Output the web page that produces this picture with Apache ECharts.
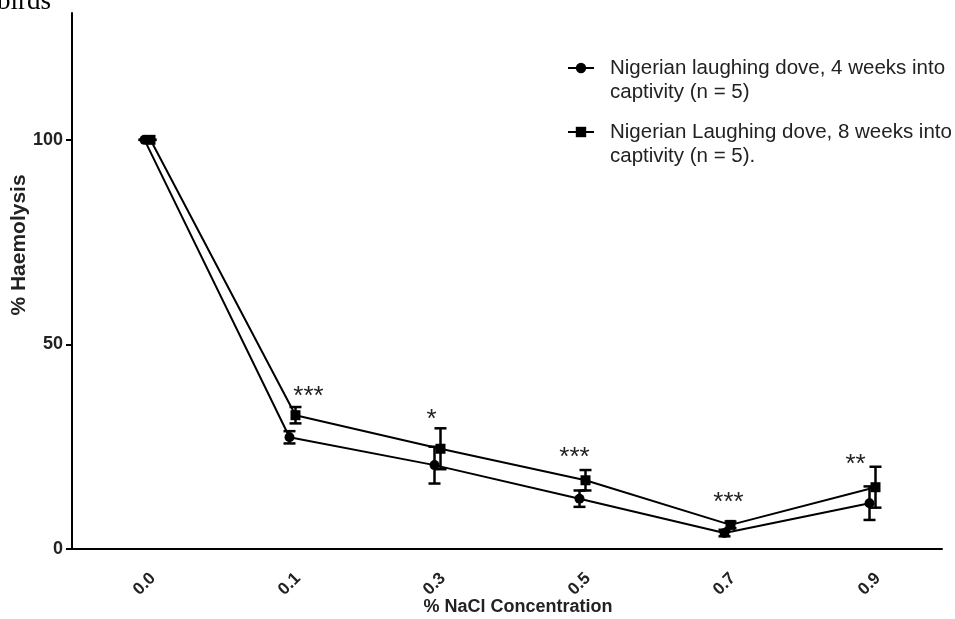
<!DOCTYPE html>
<html><head><meta charset="utf-8">
<script src="https://cdn.jsdelivr.net/npm/echarts@6/dist/echarts.min.js"></script>
<style>html,body{margin:0;padding:0;background:#fff}#c{width:955px;height:619px}</style>
</head><body><div id="c"></div>
<script>
// ---- data ----
const categories = ['0.0', '0.1', '0.3', '0.5', '0.7', '0.9'];
const yTickValues = [0, 50, 100];
const week4Name = 'Nigerian laughing dove, 4 weeks into\ncaptivity (n = 5)';
const week8Name = 'Nigerian Laughing dove, 8 weeks into\ncaptivity (n = 5).';
const week4Mean = [100, 27.3, 20.5, 12.3, 3.9, 11.2];
const week4Sem  = [0, 1.5, 4.5, 2.0, 0.8, 4.1];
const week8Mean = [100, 32.7, 24.5, 16.8, 5.9, 15.1];
const week8Sem  = [0, 2.0, 5.0, 2.5, 0.8, 5.0];
const sigMarks  = ['', '***', '*', '***', '***', '**'];
const sigHeight = [null, 38.0, 32.2, 22.9, 12.0, 21.2];

// ---- styling constants ----
const sigDx = [0, 19, -3, -5, 4, -14];
const FONT = 'Liberation Sans, Arial, sans-serif';

function errorSeries(means, sems, idx) {
  return {
    type: 'custom', xAxisIndex: idx, yAxisIndex: idx, silent: true, z: 1,
    data: means.map((m, i) => [i, m - sems[i], m + sems[i]]),
    renderItem(params, api) {
      const lo = api.coord([api.value(0), api.value(1)]);
      const hi = api.coord([api.value(0), api.value(2)]);
      const w = 6, st = {stroke: '#000', lineWidth: 2.5};
      return {type: 'group', children: [
        {type: 'line', shape: {x1: lo[0], y1: lo[1], x2: hi[0], y2: hi[1]}, style: st},
        {type: 'line', shape: {x1: lo[0] - w, y1: lo[1], x2: lo[0] + w, y2: lo[1]}, style: st},
        {type: 'line', shape: {x1: hi[0] - w, y1: hi[1], x2: hi[0] + w, y2: hi[1]}, style: st}
      ]};
    }
  };
}

const chart = echarts.init(document.getElementById('c'), null, {renderer: 'canvas'});
const yBase = {
  type: 'value', min: 0, max: 131, splitLine: {show: false}
};
chart.setOption({
  animation: false,
  backgroundColor: '#fff',
  title: {
    text: 'birds', left: -3, top: -12, padding: 0,
    textStyle: {fontFamily: 'Liberation Serif, Times New Roman, serif', fontSize: 27, fontWeight: 'normal', color: '#000'}
  },
  grid: [
    {left: 72, right: 13, top: 13, bottom: 70, outerBoundsMode: 'none', containLabel: false},
    {left: 78, right: 7, top: 13, bottom: 70, outerBoundsMode: 'none', containLabel: false}
  ],
  legend: {
    left: 567, top: 32, orient: 'vertical', padding: 0, itemGap: -8,
    itemWidth: 26, itemHeight: 13,
    data: [week4Name, week8Name],
    formatter: name => '\n' + name,
    textStyle: {fontFamily: FONT, fontSize: 20.5, color: '#222', lineHeight: 24, padding: [0, 0, 0, 11]}
  },
  xAxis: [
    {
      type: 'category', gridIndex: 0, data: categories, boundaryGap: true,
      name: '% NaCl Concentration', nameLocation: 'middle', nameGap: 49, nameMoveOverlap: false,
      nameTextStyle: {fontFamily: FONT, fontSize: 18, fontWeight: 'bold', color: '#222', padding: [0, 0, 0, 22]},
      axisLine: {lineStyle: {color: '#000', width: 2}},
      axisTick: {alignWithLabel: true, length: 6, lineStyle: {color: '#000', width: 2}},
      axisLabel: {rotate: 45, align: 'center', verticalAlign: 'middle', margin: 35,
        fontFamily: FONT, fontSize: 17, fontWeight: 'bold', color: '#222'}
    },
    {type: 'category', gridIndex: 1, data: categories, boundaryGap: true, show: false}
  ],
  yAxis: [
    Object.assign({}, yBase, {
      gridIndex: 0,
      name: '% Haemolysis', nameLocation: 'middle', nameGap: 42, nameMoveOverlap: false,
      nameTextStyle: {fontFamily: FONT, fontSize: 21, fontWeight: 'bold', color: '#222', padding: [0, 0, 0, 72]},
      axisLine: {show: true, lineStyle: {color: '#000', width: 2}},
      axisTick: {show: true, length: 6, customValues: yTickValues, lineStyle: {color: '#000', width: 2}},
      axisLabel: {customValues: yTickValues, margin: 9, fontFamily: FONT, fontSize: 18, fontWeight: 'bold', color: '#222'}
    }),
    Object.assign({}, yBase, {gridIndex: 1, show: false})
  ],
  series: [
    errorSeries(week4Mean, week4Sem, 0),
    errorSeries(week8Mean, week8Sem, 1),
    {
      name: week4Name, type: 'line', xAxisIndex: 0, yAxisIndex: 0, z: 3,
      data: week4Mean, symbol: 'circle', symbolSize: 10,
      lineStyle: {color: '#000', width: 2}, itemStyle: {color: '#000'}
    },
    {
      name: week8Name, type: 'line', xAxisIndex: 1, yAxisIndex: 1, z: 3,
      data: week8Mean, symbol: 'rect', symbolSize: 10,
      lineStyle: {color: '#000', width: 2}, itemStyle: {color: '#000'}
    },
    {
      type: 'custom', xAxisIndex: 0, yAxisIndex: 0, silent: true, z: 4,
      data: sigHeight.map((h, i) => [i, h, sigMarks[i]]).filter(d => d[1] != null),
      renderItem(params, api) {
        const i = api.value(0);
        const p = api.coord([i, api.value(1)]);
        return {type: 'text', x: p[0] + sigDx[i], y: p[1] + 3,
          style: {text: sigMarks[i], fontFamily: FONT, fontSize: 26, fill: '#222', align: 'center', verticalAlign: 'middle'}};
      }
    }
  ]
});
</script></body></html>
